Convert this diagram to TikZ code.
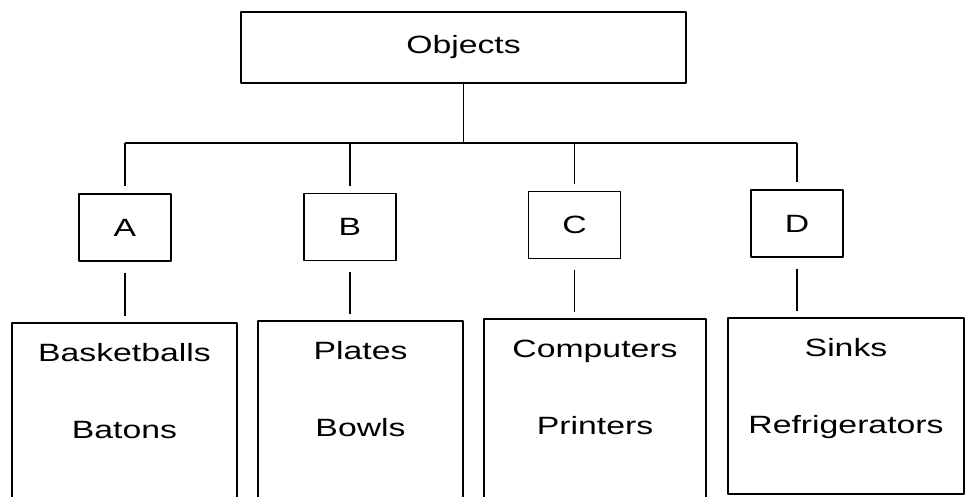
\documentclass[tikz,border=0pt]{standalone}
\usepackage{fontspec}
\setmainfont{Liberation Sans}[FakeStretch=1.35]
\begin{document}
\begin{tikzpicture}[x=1pt, y=-1pt, line join=round, line width=1.6pt,
  font=\fontsize{25}{77}\selectfont,
  box/.style={draw, inner sep=0pt},
  letterbox/.style={box, minimum width=92pt, minimum height=67pt},
  listbox/.style={box, anchor=north, align=center, text height=116pt, text depth=64pt}]
\useasboundingbox (0,0) rectangle (966,496);
\node[box, minimum width=445pt, minimum height=71pt] (obj) at (463.5,47.5) {Objects};
\node[letterbox] (a) at (125,227.5) {A};
\node[letterbox] (b) at (350,227) {B};
\node[letterbox] (c) at (574.5,225) {C};
\node[letterbox] (d) at (797,223.5) {D};
\node[listbox, minimum width=225pt] (balls) at (124.5,322) {Basketballs\\Batons};
\node[listbox, minimum width=205pt] (dishes) at (360.5,320) {Plates\\Bowls};
\node[listbox, minimum width=222pt] (office) at (595,318) {Computers\\Printers};
\node[listbox, minimum width=236pt, text depth=60pt] (kitchen) at (846,317) {Sinks\\Refrigerators};
\coordinate (bar) at (0,143);
\draw (obj.south) -- (obj.south |- bar);
\draw (a.north |- bar) -- (d.north |- bar);
\foreach \n in {a,b,c,d}
  \draw[shorten >=7pt] (\n.north |- bar) -- (\n.north);
\draw[shorten <=11pt, shorten >=6pt] (a.south) -- (a.south |- balls.north);
\draw[shorten <=11pt, shorten >=6pt] (b.south) -- (b.south |- dishes.north);
\draw[shorten <=11pt, shorten >=6pt] (c.south) -- (c.south |- office.north);
\draw[shorten <=11pt, shorten >=6pt] (d.south) -- (d.south |- kitchen.north);
\end{tikzpicture}
\end{document}
